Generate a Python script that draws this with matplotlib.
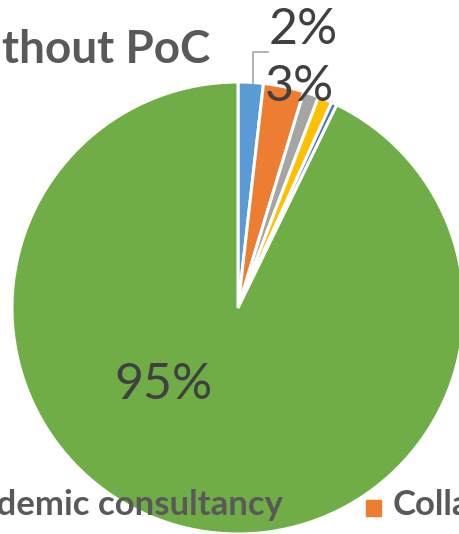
import matplotlib
matplotlib.use("Agg")
import matplotlib.pyplot as plt
from matplotlib.patches import Rectangle

# slice shares and office palette
categories = ["Academic consultancy", "Collaboration", "Other 1", "Other 2", "Other 3", "None"]
shares = [1.8, 2.9, 1.1, 1.0, 0.4, 92.8]
colors = ["#5B9BD5", "#ED7D31", "#A5A5A5", "#FFC000", "#4472C4", "#70AD47"]
label_text = ["2%", "3%", "", "", "", "95%"]
label_pos = [(0.29, 1.23), (0.27, 0.98), None, None, None, (-0.33, -0.34)]

W, H = 460, 534
fig = plt.figure(figsize=(W / 100, H / 100), dpi=100)

# pie centre ~ (238, 308) px, radius ~ 226 px
cx, cy, r = 238, 308, 226
ax = fig.add_axes([(cx - r) / W, (H - cy - r) / H, 2 * r / W, 2 * r / H])
ax.pie(shares, colors=colors, startangle=90, counterclock=False, radius=1,
       wedgeprops=dict(edgecolor="white", linewidth=2.2))
ax.set_xlim(-1, 1)
ax.set_ylim(-1, 1)
ax.set_aspect("equal")
ax.axis("off")
for a in ax.patches:
    a.set_clip_on(False)

for txt, pos in zip(label_text, label_pos):
    if txt:
        ax.text(pos[0], pos[1], txt, ha="center", va="center", fontsize=36,
                color="#404040", family="Lato", clip_on=False)

# leader line for the 2% label
ax.plot([0.133, 0.066, 0.066], [1.133, 1.133, 0.996], color="#A6A6A6",
        linewidth=1.2, clip_on=False)

fig.text(210 / W, 1 - 63 / H, "Without PoC", ha="right", va="baseline",
         fontsize=33, fontweight="bold", color="#595959", family="Lato")

# legend (cropped)
fig.text(283 / W, 1 - 515 / H, categories[0], ha="right", va="baseline",
         fontsize=25, fontweight="bold", color="#595959", family="Lato")
fig.patches.append(Rectangle((366 / W, 1 - 516 / H), 15 / W, 16 / H,
                             transform=fig.transFigure, color=colors[1]))
fig.text(393 / W, 1 - 515 / H, categories[1], ha="left", va="baseline",
         fontsize=25, fontweight="bold", color="#595959", family="Lato")

fig.savefig("out.png", dpi=100)
